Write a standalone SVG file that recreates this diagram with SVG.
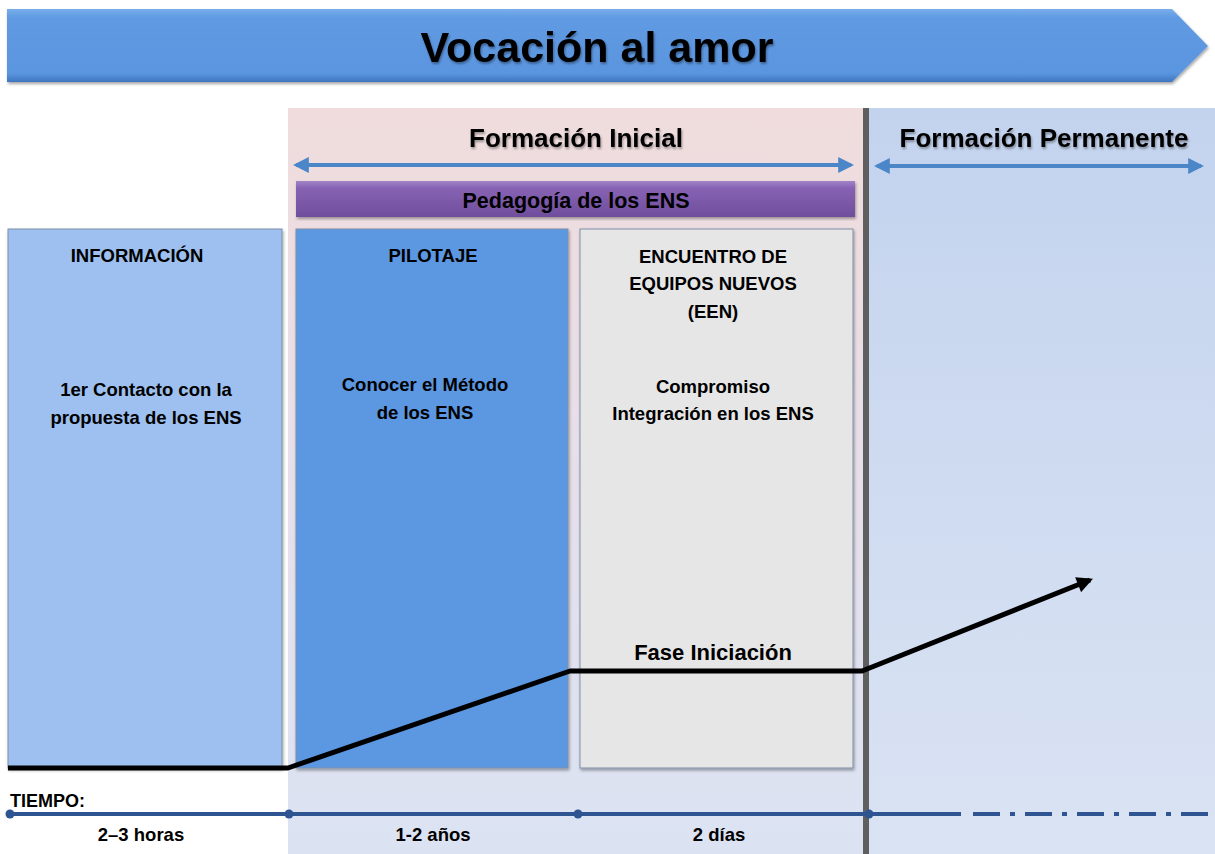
<svg xmlns="http://www.w3.org/2000/svg" width="1215" height="854" viewBox="0 0 1215 854">
<defs>
<linearGradient id="gBanner" x1="0" y1="0" x2="0" y2="1">
<stop offset="0" stop-color="#79aeea"/>
<stop offset="0.12" stop-color="#5f9ae2"/>
<stop offset="0.88" stop-color="#5a95df"/>
<stop offset="1" stop-color="#3f76bf"/>
</linearGradient>
<linearGradient id="gPink" x1="0" y1="0" x2="0" y2="1">
<stop offset="0" stop-color="#f0dcdc"/>
<stop offset="0.45" stop-color="#e7dfe9"/>
<stop offset="1" stop-color="#dbe3f3"/>
</linearGradient>
<linearGradient id="gRight" x1="0" y1="0" x2="0" y2="1">
<stop offset="0" stop-color="#c3d3ee"/>
<stop offset="1" stop-color="#dae3f3"/>
</linearGradient>
<linearGradient id="gPurple" x1="0" y1="0" x2="0" y2="1">
<stop offset="0" stop-color="#a184c8"/>
<stop offset="0.2" stop-color="#8762b4"/>
<stop offset="1" stop-color="#6f4e9c"/>
</linearGradient>
<filter id="sh" x="-5%" y="-5%" width="110%" height="115%">
<feDropShadow dx="1" dy="2" stdDeviation="1.5" flood-color="#000" flood-opacity="0.35"/>
</filter>
<filter id="tsh" x="-5%" y="-20%" width="110%" height="150%">
<feDropShadow dx="1" dy="2" stdDeviation="1" flood-color="#000" flood-opacity="0.35"/>
</filter>
<marker id="ah" viewBox="0 0 10 10" refX="8" refY="5" markerWidth="3.6" markerHeight="3.2" orient="auto" markerUnits="strokeWidth">
<path d="M0,0 L10,5 L0,10 z" fill="#000"/>
</marker>
<marker id="bh" viewBox="0 0 10 10" refX="8" refY="5" markerWidth="4" markerHeight="4" orient="auto-start-reverse" markerUnits="strokeWidth">
<path d="M0,0 L10,5 L0,10 z" fill="#4a86c8"/>
</marker>
</defs>
<style>
text{font-family:"Liberation Sans","Open Sans",sans-serif;font-weight:bold;fill:#000;text-anchor:middle}
.box{stroke:#7f8fa8;stroke-width:1}
.lbl{font-size:18.5px}
.hdr{font-size:26px}
.tl{font-size:18.5px}
.dbl{stroke:#4a86c8;stroke-width:4;fill:none}
</style>
<g id="background">
<rect x="288" y="108" width="578" height="746" fill="url(#gPink)"/>
<rect x="868" y="108" width="347" height="746" fill="url(#gRight)"/>
</g>
<g id="banner">
<path d="M7,9 L1172,9 L1208,46 L1172,82 L7,82 Z" fill="url(#gBanner)" filter="url(#sh)"/>
<text x="597" y="62" font-size="43" filter="url(#tsh)" fill="#111">Vocación al amor</text>
</g>
<g id="formacion-inicial">
<text class="hdr" x="576" y="147" filter="url(#tsh)">Formación Inicial</text>
<line class="dbl" x1="296" y1="165" x2="851" y2="165" marker-start="url(#bh)" marker-end="url(#bh)"/>
</g>
<g id="formacion-permanente">
<text class="hdr" x="1044" y="147" filter="url(#tsh)">Formación Permanente</text>
<line class="dbl" x1="877" y1="166" x2="1201" y2="166" marker-start="url(#bh)" marker-end="url(#bh)"/>
</g>
<g id="pedagogia">
<rect x="296" y="181" width="559" height="36" fill="url(#gPurple)" filter="url(#sh)"/>
<text x="576" y="208" font-size="21.5">Pedagogía de los ENS</text>
</g>
<g id="informacion">
<rect class="box" x="8" y="229" width="274" height="539" fill="#9dc0f0" filter="url(#sh)"/>
<text class="lbl" x="137" y="262">INFORMACIÓN</text>
<text class="lbl" x="146" y="396">1er Contacto con la</text>
<text class="lbl" x="146" y="424">propuesta de los ENS</text>
</g>
<g id="pilotaje">
<rect class="box" x="296" y="229" width="272" height="539" fill="#5b97e2" filter="url(#sh)"/>
<text class="lbl" x="433" y="262">PILOTAJE</text>
<text class="lbl" x="425" y="391">Conocer el Método</text>
<text class="lbl" x="425" y="419">de los ENS</text>
</g>
<g id="een">
<rect class="box" x="580" y="229" width="273" height="539" fill="#e6e6e6" filter="url(#sh)"/>
<text class="lbl" x="713" y="263">ENCUENTRO DE</text>
<text class="lbl" x="713" y="290">EQUIPOS NUEVOS</text>
<text class="lbl" x="713" y="318">(EEN)</text>
<text class="lbl" x="713" y="393">Compromiso</text>
<text class="lbl" x="713" y="420">Integración en los ENS</text>
</g>
<g id="divider">
<rect x="863" y="108" width="6" height="746" fill="#5f5f5f"/>
</g>
<g id="connectors">
<polyline points="8,768 288,768 570,671 862,671 1090,580" fill="none" stroke="#000" stroke-width="5" stroke-linejoin="round" marker-end="url(#ah)"/>
</g>
<g id="fase">
<text x="713" y="660" font-size="22">Fase Iniciación</text>
</g>
<g id="timeline">
<text x="10" y="807" font-size="18" style="text-anchor:start">TIEMPO:</text>
<line x1="10" y1="814" x2="961" y2="814" stroke="#2e5591" stroke-width="4"/>
<line x1="973" y1="814" x2="1212" y2="814" stroke="#2e5591" stroke-width="4" stroke-dasharray="27,10,5,10"/>
<circle cx="10" cy="814" r="4.5" fill="#2e5591"/>
<circle cx="289" cy="814" r="4.5" fill="#2e5591"/>
<circle cx="578" cy="814" r="4.5" fill="#2e5591"/>
<circle cx="869" cy="814" r="4.5" fill="#2e5591"/>
<text class="tl" x="141" y="841">2–3 horas</text>
<text class="tl" x="433" y="841">1-2 años</text>
<text class="tl" x="719" y="841">2 días</text>
</g>
</svg>
